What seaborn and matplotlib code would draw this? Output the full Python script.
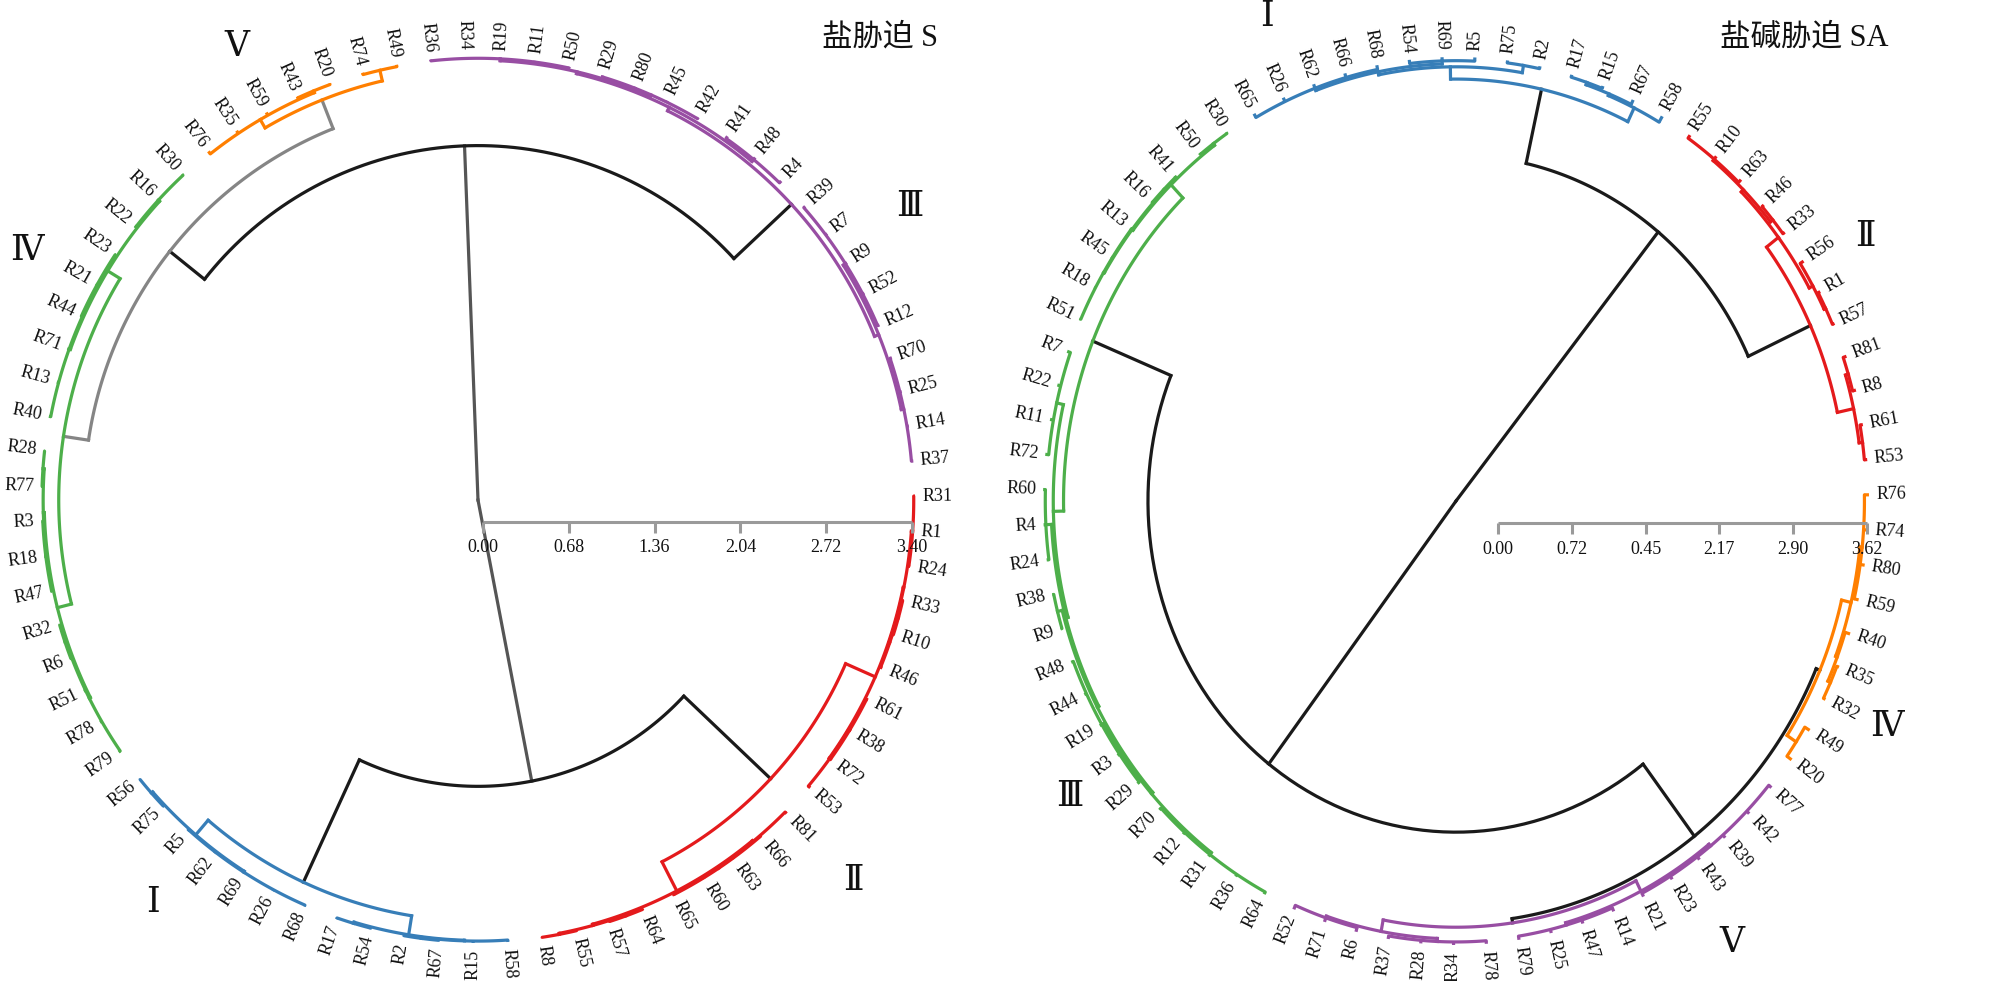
import numpy as np
import matplotlib
matplotlib.use("Agg")
import matplotlib.pyplot as plt
import seaborn as sns

# ---------------- salt stress S (left tree) ----------------
leaves_s = ["R31", "R1", "R24", "R33", "R10", "R46", "R61", "R38", "R72", "R53",
            "R81", "R66", "R63", "R60", "R65", "R64", "R57", "R55", "R8",
            "R58", "R15", "R67", "R2", "R54", "R17", "R68", "R26", "R69", "R62",
            "R5", "R75", "R56",
            "R79", "R78", "R51", "R6", "R32", "R47", "R18", "R3", "R77", "R28",
            "R40", "R13", "R71", "R44", "R21", "R23", "R22", "R16", "R30",
            "R76", "R35", "R59", "R43", "R20", "R74", "R49",
            "R36", "R34", "R19", "R11", "R50", "R29", "R80", "R45", "R42", "R41",
            "R48", "R4", "R39", "R7", "R9", "R52", "R12", "R70", "R25", "R14", "R37"]
# (first leaf, last leaf, distance from root)
clades_s = [(0, 78, 0.00), (0, 31, 2.23), (32, 78, 2.76),
            (0, 18, 3.17), (19, 31, 3.28), (32, 57, 3.11), (58, 78, 3.38),
            (32, 50, 3.31), (51, 57, 3.35),
            (0, 9, 3.425), (0, 5, 3.43), (0, 2, 3.44), (3, 5, 3.435), (3, 4, 3.443),
            (6, 9, 3.43), (6, 8, 3.438),
            (10, 18, 3.425), (10, 14, 3.433), (11, 14, 3.44), (15, 18, 3.435),
            (15, 16, 3.443), (17, 18, 3.443),
            (19, 24, 3.43), (19, 22, 3.435), (21, 22, 3.443), (23, 24, 3.44),
            (25, 31, 3.43), (25, 29, 3.438), (30, 31, 3.443),
            (32, 41, 3.425), (32, 36, 3.435), (35, 36, 3.443), (37, 41, 3.433),
            (37, 39, 3.44), (40, 41, 3.443),
            (42, 50, 3.425), (42, 47, 3.435), (45, 47, 3.443), (48, 50, 3.438),
            (51, 55, 3.425), (54, 55, 3.44), (56, 57, 3.435),
            (58, 69, 3.41), (58, 66, 3.425), (58, 62, 3.44), (63, 66, 3.438),
            (67, 69, 3.43),
            (70, 78, 3.415), (70, 74, 3.435), (75, 78, 3.435)]
depth_s = 3.45
groups_s = [(0, 18), (19, 31), (32, 50), (51, 57), (58, 78), (32, 57)]
numerals_s = ["Ⅱ", "Ⅰ", "Ⅳ", "Ⅴ", "Ⅲ"]
ticks_s = ["0.00", "0.68", "1.36", "2.04", "2.72", "3.40"]
title_s = "盐胁迫 S"

# ---------------- saline-alkali stress SA (right tree) ----------------
leaves_sa = ["R76", "R74", "R80", "R59", "R40", "R35", "R32", "R49", "R20",
             "R77", "R42", "R39", "R43", "R23", "R21", "R14", "R47", "R25", "R79",
             "R78", "R34", "R28", "R37", "R6", "R71", "R52",
             "R64", "R36", "R31", "R12", "R70", "R29", "R3", "R19", "R44", "R48",
             "R9", "R38", "R24", "R4", "R60", "R72", "R11", "R22", "R7", "R51",
             "R18", "R45", "R13", "R16", "R41", "R50", "R30",
             "R65", "R26", "R62", "R66", "R68", "R54", "R69", "R5", "R75", "R2",
             "R17", "R15", "R67", "R58",
             "R55", "R10", "R63", "R46", "R33", "R56", "R1", "R57", "R81", "R8",
             "R61", "R53"]
clades_sa = [(0, 78, 0.00), (53, 78, 2.82), (0, 52, 2.70),
             (53, 66, 3.44), (67, 78, 3.42), (26, 52, 3.44), (0, 25, 3.44),
             (0, 8, 3.475), (9, 25, 3.475),
             (0, 6, 3.56), (0, 3, 3.58), (4, 6, 3.575), (5, 6, 3.60), (7, 8, 3.57),
             (9, 18, 3.57), (9, 14, 3.59), (15, 18, 3.59),
             (19, 25, 3.57), (19, 22, 3.595), (23, 25, 3.585),
             (45, 52, 3.59), (45, 50, 3.60), (45, 48, 3.607), (49, 50, 3.607),
             (51, 52, 3.607),
             (26, 44, 3.53), (26, 40, 3.55), (26, 37, 3.565), (26, 35, 3.58),
             (26, 30, 3.60), (31, 35, 3.60), (36, 37, 3.607), (38, 40, 3.60),
             (41, 44, 3.59),
             (53, 62, 3.54), (53, 60, 3.565), (53, 57, 3.585), (58, 60, 3.59),
             (61, 62, 3.60), (63, 66, 3.565), (63, 65, 3.58), (63, 64, 3.60),
             (67, 74, 3.55), (67, 71, 3.575), (67, 69, 3.59), (70, 71, 3.60),
             (72, 74, 3.585), (73, 74, 3.60), (75, 78, 3.565), (75, 76, 3.59),
             (77, 78, 3.595)]
depth_sa = 3.62
groups_sa = [(0, 8), (9, 25), (26, 52), (53, 66), (67, 78)]
numerals_sa = ["Ⅳ", "Ⅴ", "Ⅲ", "Ⅰ", "Ⅱ"]
ticks_sa = ["0.00", "0.72", "0.45", "2.17", "2.90", "3.62"]
title_sa = "盐碱胁迫 SA"

# ---------------- style / layout ----------------
sns.set_theme(style="white")
plt.rcParams["font.family"] = ["Liberation Serif", "DejaVu Serif", "Noto Sans CJK SC"]
pal = sns.color_palette("Set1")
red, blue, green, purple, orange = pal[0], pal[1], pal[2], pal[3], pal[4]
colors_s = [red, blue, green, orange, purple, "#858585"]
colors_sa = [orange, purple, green, blue, red]
LW = 2.3


def tree_layout(clades, n, theta0):
    leaf_ang = theta0 - np.arange(n) * 360.0 / n
    spans = [(a, b) for a, b, _ in clades]

    def children(a, b):
        out, p = [], a
        while p <= b:
            best = None
            for s, e in spans:
                if s == p and e <= b and (s, e) != (a, b):
                    if best is None or e > best[1]:
                        best = (s, e)
            if best is None:
                out.append(("leaf", p))
                p += 1
            else:
                out.append(("clade", best))
                p = best[1] + 1
        return out

    ang, kids = {}, {}

    def angle(node):
        if node[0] == "leaf":
            return leaf_ang[node[1]]
        key = node[1]
        if key not in ang:
            kids[key] = children(*key)
            ang[key] = 0.5 * (angle(kids[key][0]) + angle(kids[key][-1]))
        return ang[key]

    for a, b, _ in clades:
        angle(("clade", (a, b)))
    return leaf_ang, ang, kids


def draw_tree(ax, leaves, clades, depth, groups, gcolors, theta0, cx, cy, rx, ry,
              root_color="#1a1a1a", cut=None):
    n = len(leaves)
    leaf_ang, ang, kids = tree_layout(clades, n, theta0)
    dist = {(a, b): d for a, b, d in clades}

    def node_angle(node):
        return leaf_ang[node[1]] if node[0] == "leaf" else ang[node[1]]

    def xy(d, th):
        t = np.radians(th)
        r = np.asarray(d) / depth
        return cx + rx * r * np.cos(t), cy - ry * r * np.sin(t)

    def color_of(a, b):
        if (a, b) == (0, n - 1):
            return root_color
        best, col = None, "#1a1a1a"
        for (s, e), c in zip(groups, gcolors):
            if s <= a and b <= e and (best is None or e - s < best):
                best, col = e - s, c
        return col

    for (a, b), d in dist.items():
        cp = color_of(a, b)
        ch = kids[(a, b)]
        if d > 0:
            th = np.linspace(node_angle(ch[0]), node_angle(ch[-1]), 80)
            x, y = xy(np.full_like(th, d), th)
            ax.plot(x, y, color=cp, lw=LW, zorder=2)
        for kind, k in ch:
            if kind == "leaf":
                th, dc, cc = leaf_ang[k], depth, color_of(k, k)
            else:
                th, dc, cc = ang[k], dist[k], color_of(*k)
            if cut is not None and cc != cp and cp != root_color:
                m = max(d, min(cut, dc))
                segs = [(d, m, cp), (m, dc, cc)]
            else:
                segs = [(d, dc, cp)]
            cap = "butt" if kind == "leaf" else "projecting"
            for d0, d1, c in segs:
                if d1 > d0:
                    x, y = xy([d0, d1], th)
                    ax.plot(x, y, color=c, lw=LW, zorder=2, solid_capstyle=cap)

    # leaf labels, radial, flipped on the left half
    for i, name in enumerate(leaves):
        t = np.radians(leaf_ang[i])
        phi = np.degrees(np.arctan2(ry * np.sin(t), rx * np.cos(t)))
        lx = cx + (rx + 7) * np.cos(t)
        ly = cy - (ry + 7) * np.sin(t)
        if np.cos(np.radians(phi)) >= 0:
            rot, ha = phi, "left"
        else:
            rot, ha = phi - 180, "right"
        ax.text(lx, ly, name, rotation=rot, rotation_mode="anchor", ha=ha,
                va="center", fontsize=13, color="#111111")


def scale_bar(ax, x0, x1, y, labels):
    ax.plot([x0, x1], [y, y], color="#9a9a9a", lw=2.2, zorder=3,
            solid_capstyle="butt")
    for x, lab in zip(np.linspace(x0, x1, len(labels)), labels):
        ax.plot([x, x], [y, y + 11], color="#9a9a9a", lw=2.2, zorder=3,
                solid_capstyle="butt")
        ax.text(x, y + 26, lab, ha="center", va="center", fontsize=13,
                color="#111111")


fig = plt.figure(figsize=(20.05, 9.81), dpi=100)
ax = fig.add_axes([0, 0, 1, 1])
ax.set_xlim(0, 2005)
ax.set_ylim(981, 0)
ax.axis("off")

draw_tree(ax, leaves_s, clades_s, depth_s, groups_s, colors_s, 0.5,
          478, 500, 437, 443, root_color="#555555")
draw_tree(ax, leaves_sa, clades_sa, depth_sa, groups_sa, colors_sa, 0.8,
          1456, 501, 413, 444, cut=3.28)

scale_bar(ax, 483, 912, 522, ticks_s)
scale_bar(ax, 1498, 1867, 523, ticks_sa)

num_pos_s = [(853, 882), (153, 903), (27, 252), (237, 48), (910, 207)]
num_pos_sa = [(1887, 728), (1732, 943), (1070, 797), (1267, 18), (1865, 237)]
for lab, (x, y) in zip(numerals_s + numerals_sa, num_pos_s + num_pos_sa):
    ax.text(x, y, lab, ha="center", va="center", fontsize=25, color="#111111")

ax.text(822, 38, title_s, ha="left", va="center", fontsize=22, color="#111111")
ax.text(1720, 38, title_sa, ha="left", va="center", fontsize=22, color="#111111")

fig.savefig("out.png", dpi=100, facecolor="white")
